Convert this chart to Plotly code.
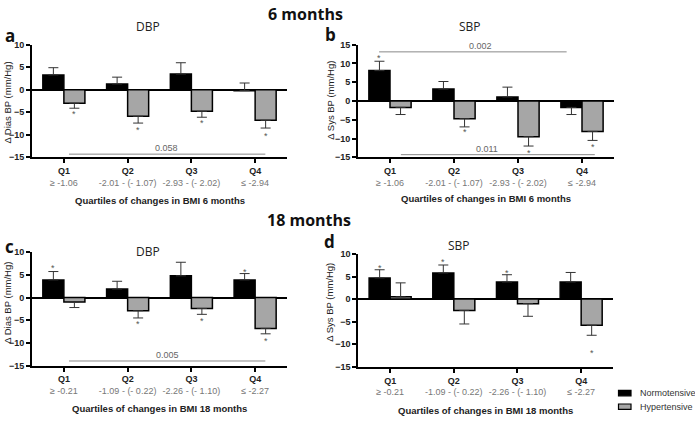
import plotly.graph_objects as go

W, H = 695, 421

# ---------------- data ----------------
quartiles = ["Q1", "Q2", "Q3", "Q4"]
ranges_6m = ["≥ -1.06", "-2.01 - (- 1.07)", "-2.93 - (- 2.02)", "≤ -2.94"]
ranges_18m = ["≥ -0.21", "-1.09 - (- 0.22)", "-2.26 - (- 1.10)", "≤ -2.27"]
series_names = ["Normotensive", "Hypertensive"]

# mean change and end of error bar (as drawn)
dbp6_normo = [3.3, 1.3, 3.5, -0.2]
dbp6_normo_err = [4.9, 2.8, 6.0, 1.5]
dbp6_hyper = [-3.0, -5.9, -4.8, -6.8]
dbp6_hyper_err = [-4.1, -7.4, -6.1, -8.5]

sbp6_normo = [8.1, 3.2, 1.1, -1.7]
sbp6_normo_err = [10.6, 5.2, 3.7, -3.6]
sbp6_hyper = [-1.7, -4.7, -9.5, -8.1]
sbp6_hyper_err = [-3.6, -6.9, -12.0, -10.5]

dbp18_normo = [3.9, 1.9, 4.8, 3.9]
dbp18_normo_err = [5.75, 3.6, 7.8, 5.3]
dbp18_hyper = [-1.0, -2.9, -2.4, -6.8]
dbp18_hyper_err = [-2.2, -4.5, -3.7, -8.0]

sbp18_normo = [4.7, 5.8, 3.8, 3.8]
sbp18_normo_err = [6.5, 7.55, 5.4, 5.9]
sbp18_hyper = [0.5, -2.5, -1.0, -5.8]
sbp18_hyper_err = [3.6, -5.5, -3.8, -8.0]

# asterisk positions (None = no asterisk)
stars_a_normo = [None, None, None, None]
stars_a_hyper = [-4.85, -8.6, -7.0, -9.9]
stars_b_normo = [12.0, None, None, None]
stars_b_hyper = [None, -7.8, -13.2, -11.7]
stars_c_normo = [7.0, None, None, 6.1]
stars_c_hyper = [None, -5.4, -4.8, -9.1]
stars_d_normo = [7.3, 8.55, 6.3, None]
stars_d_hyper = [None, None, None, -11.4]

# p-value brackets: (x0, x1, y, label, label_x)
brackets_a = [(0.08, 3.16, -14.3, "0.058", 1.61)]
brackets_b = [(-0.17, 2.76, 13.1, "0.002", 1.41), (0.17, 3.2, -14.3, "0.011", 1.52)]
brackets_c = [(0.08, 3.16, -14.0, "0.005", 1.63)]
brackets_d = []

# ---------------- styling ----------------
BLACK = "#000000"
GRAY = "#a6a6a6"
ERR = "#333333"
BARGAP = 0.34
OFF = (1 - BARGAP) / 4
TICKFONT = "Liberation Sans, Arial, sans-serif"
TITLEFONT = "Open Sans, sans-serif"


def px(x):
    return x / W


def py(y):
    return 1 - y / H


def ann(**kw):
    d = dict(showarrow=False, xanchor="center", yanchor="middle")
    d.update(kw)
    return d


panels = [
    dict(letter="a", sub="DBP", xa="x", ya="y", xdom=(32, 287), ydom=(40.7, 156), yr=(-15, 10),
         ytitle="Δ Dias BP (mm/Hg)", ranges=ranges_6m, xtitle="Quartiles of changes in BMI 6 months",
         normo=(dbp6_normo, dbp6_normo_err, stars_a_normo), hyper=(dbp6_hyper, dbp6_hyper_err, stars_a_hyper),
         br=brackets_a, letter_pos=(10, 31), sub_pos=(148, 22.5), ytitle_pos=(8, 100), xtitle_y=200),
    dict(letter="b", sub="SBP", xa="x2", ya="y2", xdom=(358, 614), ydom=(40.7, 156), yr=(-15, 15),
         ytitle="Δ Sys BP (mm/Hg)", ranges=ranges_6m, xtitle="Quartiles of changes in BMI 6 months",
         normo=(sbp6_normo, sbp6_normo_err, stars_b_normo), hyper=(sbp6_hyper, sbp6_hyper_err, stars_b_hyper),
         br=brackets_b, letter_pos=(330, 30), sub_pos=(470, 22.5), ytitle_pos=(331, 98), xtitle_y=198.5),
    dict(letter="c", sub="DBP", xa="x3", ya="y3", xdom=(32, 287), ydom=(253.3, 369.3), yr=(-15, 10),
         ytitle="Δ Dias BP (mm/Hg)", ranges=ranges_18m, xtitle="Quartiles of changes in BMI 18 months",
         normo=(dbp18_normo, dbp18_normo_err, stars_c_normo), hyper=(dbp18_hyper, dbp18_hyper_err, stars_c_hyper),
         br=brackets_c, letter_pos=(9, 247), sub_pos=(148, 252), ytitle_pos=(8, 305), xtitle_y=413.5),
    dict(letter="d", sub="SBP", xa="x4", ya="y4", xdom=(358.3, 613), ydom=(255, 370.7), yr=(-15, 10),
         ytitle="Δ Sys BP (mm/Hg)", ranges=ranges_18m, xtitle="Quartiles of changes in BMI 18 months",
         normo=(sbp18_normo, sbp18_normo_err, stars_d_normo), hyper=(sbp18_hyper, sbp18_hyper_err, stars_d_hyper),
         br=brackets_d, letter_pos=(329, 242), sub_pos=(459, 246.7), ytitle_pos=(330, 305), xtitle_y=415),
]

fig = go.Figure()
annotations = []
shapes = []
layout_axes = {}
xpos = list(range(len(quartiles)))

for p in panels:
    for (vals, errs, stars), name, color, off in [
        (p["normo"], series_names[0], BLACK, -OFF),
        (p["hyper"], series_names[1], GRAY, OFF),
    ]:
        plus = [max(e - v, 0) for v, e in zip(vals, errs)]
        minus = [max(v - e, 0) for v, e in zip(vals, errs)]
        fig.add_trace(go.Bar(
            x=xpos, y=vals, name=name, xaxis=p["xa"], yaxis=p["ya"], showlegend=False,
            marker=dict(color=color, line=dict(color=BLACK, width=1.5)),
            error_y=dict(type="data", symmetric=False, array=plus, arrayminus=minus,
                         color=ERR, thickness=1, width=5),
        ))
        for i, s in enumerate(stars):
            if s is not None:
                annotations.append(ann(x=i + off, y=s, xref=p["xa"], yref=p["ya"], text="*",
                                       yshift=-2, font=dict(size=9, color="#555", family=TICKFONT)))
    for (x0, x1, yb, lab, lx) in p["br"]:
        shapes.append(dict(type="line", xref=p["xa"], yref=p["ya"], x0=x0, x1=x1, y0=yb, y1=yb,
                           line=dict(color="#888", width=1)))
        annotations.append(ann(x=lx, y=yb, xref=p["xa"], yref=p["ya"], text=lab,
                               yanchor="bottom", yshift=-1,
                               font=dict(size=9, color="#666", family=TICKFONT)))
    # axes
    xk = "xaxis" + p["xa"][1:]
    yk = "yaxis" + p["ya"][1:]
    ticktext = [f"<b>{q}</b><br><span style='color:#777'>{r}</span>" for q, r in zip(quartiles, p["ranges"])]
    layout_axes[xk] = dict(domain=[px(p["xdom"][0]), px(p["xdom"][1])], anchor=p["ya"],
                           range=[-0.5, 3.5], tickvals=xpos, ticktext=ticktext,
                           showline=True, linecolor=BLACK, linewidth=2, ticks="outside",
                           ticklen=4, tickwidth=1.5, tickcolor=BLACK, showgrid=False, zeroline=False,
                           tickfont=dict(size=9, color="#222", family=TICKFONT), fixedrange=True)
    layout_axes[yk] = dict(domain=[py(p["ydom"][1]), py(p["ydom"][0])], anchor=p["xa"],
                           range=list(p["yr"]), dtick=5, tick0=0,
                           showline=True, linecolor=BLACK, linewidth=2, ticks="outside",
                           ticklen=4, tickwidth=1.5, tickcolor=BLACK, showgrid=False,
                           zeroline=True, zerolinecolor=BLACK, zerolinewidth=2,
                           tickfont=dict(size=9, color="#222", family=TICKFONT, weight="bold"),
                           fixedrange=True)
    # texts
    annotations.append(ann(x=px(p["letter_pos"][0]), y=py(p["letter_pos"][1]), xref="paper", yref="paper",
                           text=f"<b>{p['letter']}</b>", font=dict(size=17, color="#111", family=TITLEFONT)))
    annotations.append(ann(x=px(p["sub_pos"][0]), y=py(p["sub_pos"][1]), xref="paper", yref="paper",
                           text=p["sub"], font=dict(size=12, color="#222", family=TITLEFONT)))
    annotations.append(ann(x=px(p["ytitle_pos"][0]), y=py(p["ytitle_pos"][1]), xref="paper", yref="paper",
                           text=p["ytitle"], textangle=-90,
                           font=dict(size=9.5, color="#222", family=TICKFONT)))
    annotations.append(ann(x=px(sum(p["xdom"]) / 2), y=py(p["xtitle_y"]), xref="paper", yref="paper",
                           text=f"<b>{p['xtitle']}</b>",
                           font=dict(size=9.5, color="#222", family=TICKFONT)))

# section titles
annotations.append(ann(x=px(305), y=py(9.5), xref="paper", yref="paper", text="<b>6 months</b>",
                       font=dict(size=16, color="#111", family=TITLEFONT)))
annotations.append(ann(x=px(309), y=py(220), xref="paper", yref="paper", text="<b>18 months</b>",
                       font=dict(size=16, color="#111", family=TITLEFONT)))

# legend (manual, compact)
legend_items = [(series_names[0], BLACK, 397.5), (series_names[1], GRAY, 411.5)]
for name, color, yc in legend_items:
    shapes.append(dict(type="rect", xref="paper", yref="paper", x0=px(618.5), x1=px(631),
                       y0=py(yc + 2.8), y1=py(yc - 2.8), fillcolor=color,
                       line=dict(color=BLACK, width=1.2)))
    annotations.append(ann(x=px(638), y=py(yc), xref="paper", yref="paper", text=name,
                           xanchor="left", font=dict(size=9, color="#333", family=TICKFONT)))

fig.update_layout(
    width=W, height=H, margin=dict(l=0, r=0, t=0, b=0),
    paper_bgcolor="white", plot_bgcolor="white",
    barmode="group", bargap=BARGAP, bargroupgap=0,
    showlegend=False, annotations=annotations, shapes=shapes,
    **layout_axes,
)

fig.write_html("out.html", config={"displayModeBar": False},
               post_script="document.body.style.margin='0';document.body.style.overflow='hidden';")
